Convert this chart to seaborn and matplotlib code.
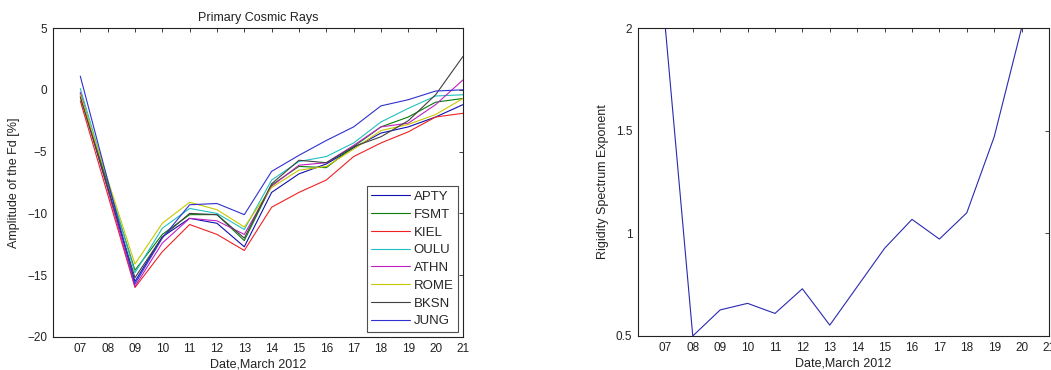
import pandas as pd
import matplotlib.pyplot as plt
import seaborn as sns

# Forbush decrease amplitudes per neutron monitor station (March 2012)
days = [7, 9, 10, 11, 12, 13, 14, 15, 16, 17, 18, 19, 20, 21]
apty = [-0.3, -15.5, -11.9, -10.4, -10.8, -12.7, -8.3, -6.8, -6.0, -4.7, -3.5, -3.0, -2.2, -1.2]
fsmt = [-0.5, -14.6, -11.7, -10.1, -10.1, -12.2, -7.7, -6.2, -6.3, -4.6, -3.0, -2.2, -1.0, -0.7]
kiel = [-0.9, -16.0, -13.1, -10.9, -11.7, -13.0, -9.5, -8.3, -7.3, -5.4, -4.3, -3.4, -2.2, -1.9]
oulu = [0.1, -14.8, -11.2, -9.6, -10.0, -11.3, -7.3, -5.8, -5.4, -4.3, -2.6, -1.5, -0.5, -0.4]
athn = [-0.2, -15.9, -12.4, -10.4, -10.6, -11.7, -7.8, -6.1, -5.9, -4.5, -3.0, -2.7, -1.2, 0.8]
rome = [-0.4, -14.1, -10.8, -9.1, -9.7, -11.1, -7.9, -6.5, -6.2, -4.8, -3.3, -2.8, -2.0, -0.7]
bksn = [-0.6, -15.2, -11.9, -10.0, -10.1, -12.0, -7.6, -5.7, -5.9, -4.6, -3.8, -2.5, -0.4, 2.7]
jung = [1.1, -15.7, -12.0, -9.3, -9.2, -10.1, -6.6, -5.3, -4.1, -3.0, -1.3, -0.8, -0.1, 0.0]
stations = ['APTY', 'FSMT', 'KIEL', 'OULU', 'ATHN', 'ROME', 'BKSN', 'JUNG']
colors = ['#1010b0', '#0a7a0a', '#ee2222', '#22c0c0', '#c020c0', '#c8c800', '#404040', '#3030d0']

# Rigidity spectrum exponent
gamma_days = [7, 8, 9, 10, 11, 12, 13, 14, 15, 16, 17, 18, 19, 20]
gamma = [2.0, 0.5, 0.627, 0.659, 0.61, 0.73, 0.553, 0.74, 0.927, 1.068, 0.972, 1.10, 1.47, 2.0]

tick_days = list(range(7, 22))
tick_labels = ['%02d' % d for d in tick_days]

sns.set_theme(style='white')
plt.rcParams['font.family'] = ['Liberation Sans', 'DejaVu Sans']
plt.rcParams['xtick.direction'] = 'in'
plt.rcParams['ytick.direction'] = 'in'

series = [apty, fsmt, kiel, oulu, athn, rome, bksn, jung]
df = pd.DataFrame({
    'day': days * len(stations),
    'amp': [v for s in series for v in s],
    'station': [name for name in stations for _ in days],
})
gdf = pd.DataFrame({'day': gamma_days, 'gamma': gamma})

fig = plt.figure(figsize=(10.51, 3.70), dpi=100)
ax1 = fig.add_axes([0.0504, 0.0892, 0.3901, 0.8351])
ax2 = fig.add_axes([0.6070, 0.0919, 0.3911, 0.8324])

text_color = '#222222'
fs = 9
tfs = 8.5

# left panel
sns.lineplot(data=df, x='day', y='amp', hue='station', palette=colors,
             hue_order=stations, linewidth=0.8, ax=ax1)
ax1.set_xlim(6, 21)
ax1.set_ylim(-20, 5)
ax1.set_yticks([-20, -15, -10, -5, 0, 5])
ax1.set_title('Primary Cosmic Rays', fontsize=fs, color=text_color, pad=5)
ax1.set_ylabel('Amplitude of the Fd [%]', fontsize=fs, color=text_color, labelpad=5)
leg = ax1.legend(loc='lower right', bbox_to_anchor=(0.988, 0.016), borderaxespad=0,
                 fontsize=9.5, frameon=True, fancybox=False, handlelength=2.9,
                 handletextpad=0.3, labelspacing=0.42, borderpad=0.35)
leg.get_frame().set_edgecolor('#222222')
leg.get_frame().set_linewidth(0.8)

# right panel
sns.lineplot(data=gdf, x='day', y='gamma', color='#2a2ab0', linewidth=0.8, ax=ax2)
ax2.set_xlim(6, 21)
ax2.set_ylim(0.5, 2)
ax2.set_yticks([0.5, 1, 1.5, 2])
ax2.set_yticklabels(['0.5', '1', '1.5', '2'])
ax2.set_ylabel('Rigidity Spectrum Exponent', fontsize=fs, color=text_color, labelpad=5)

for ax in (ax1, ax2):
    ax.set_xticks(tick_days)
    ax.set_xticklabels(tick_labels)
    ax.set_xlabel('Date,March 2012', fontsize=fs, color=text_color, labelpad=3)
    ax.tick_params(axis='both', labelsize=tfs, colors=text_color, length=3, width=0.6,
                   top=True, right=True, pad=4)
    for sp in ax.spines.values():
        sp.set_color('#222222')
        sp.set_linewidth(0.8)

fig.savefig('out.png', dpi=100)
